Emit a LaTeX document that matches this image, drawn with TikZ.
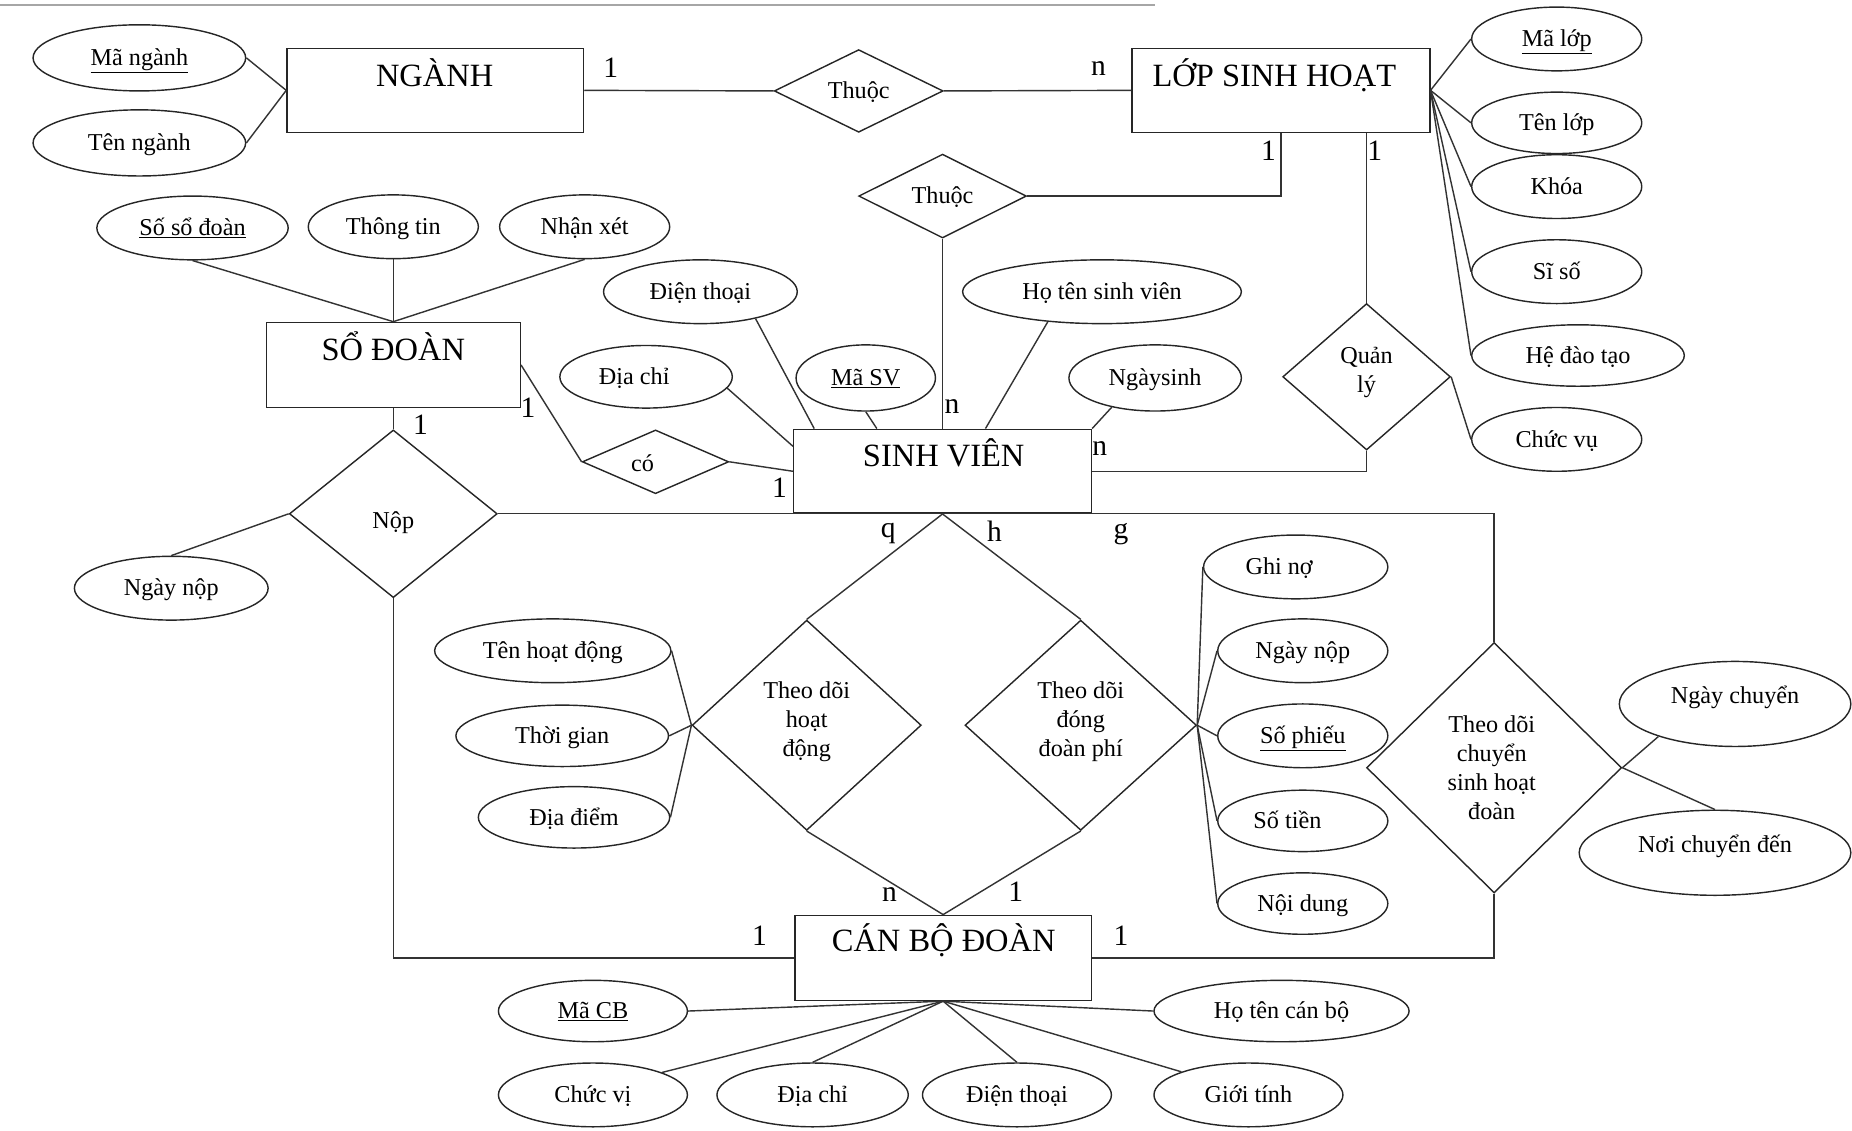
\documentclass[tikz,border=0pt]{standalone}
\usepackage{fontspec}
\setmainfont{Liberation Serif}
\usetikzlibrary{shapes.geometric}

\begin{document}
\begin{tikzpicture}[x=1pt,y=-1pt,
  ln/.style={draw=black!80, line width=1.2pt},
  entity/.style={draw=black!85, line width=1.3pt, rectangle, inner sep=0pt},
  rel/.style={draw=black!85, line width=1.2pt, diamond, inner sep=0pt},
  attr/.style 2 args={draw=black!85, line width=1.2pt, ellipse, inner sep=0pt,
    minimum width=#1, minimum height=#2,
    font=\fontsize{20.5}{24.5}\selectfont, text height=16.8pt, text depth=3.7pt},
  etext/.style={anchor=base, inner sep=0pt, font=\fontsize{27.5}{30}\selectfont},
  rtext/.style={inner sep=0pt, align=center, font=\fontsize{20.5}{24.5}\selectfont},
  rtext1/.style={rtext, text height=16.8pt, text depth=3.7pt},
  card/.style={inner sep=0pt, font=\fontsize{25}{28}\selectfont},
]
\useasboundingbox (0,0) rectangle (1568,957);

% rule along the top edge
\draw[gray!70, line width=2pt] (0,4) -- (978,4);

% ---------- entities ----------
\node[entity, minimum width=251pt, minimum height=71pt] (nganh) at (368.5,76.5) {};
\node[etext] (nganhT) at (368,73) {NGÀNH};
\node[entity, minimum width=252pt, minimum height=71pt] (lop) at (1084.5,76.5) {};
\node[etext] (lopT) at (1079,73) {LỚP SINH HOẠT};
\node[entity, minimum width=215pt, minimum height=72pt] (sodoan) at (333,309) {};
\node[etext] (sodoanT) at (333,305) {SỔ ĐOÀN};
\node[entity, minimum width=252pt, minimum height=71pt] (sv) at (798,399) {};
\node[etext] (svT) at (799,395) {SINH VIÊN};
\node[entity, minimum width=251pt, minimum height=72pt] (cbd) at (798.5,811) {};
\node[etext] (cbdT) at (799,806) {CÁN BỘ ĐOÀN};

% ---------- relationships ----------
\node[rel, minimum width=143pt, minimum height=70pt] (thuoc1) at (727,77) {};
\node[rel, minimum width=142pt, minimum height=71pt] (thuoc2) at (798,166) {};
\node[rel, minimum width=142pt, minimum height=124pt] (quanly) at (1157,319) {};
\node[rel, minimum width=124pt, minimum height=54pt] (co) at (555,391) {};
\node[rel, minimum width=176pt, minimum height=142pt] (nop) at (333,435) {};
\node[rel, minimum width=194pt, minimum height=178pt] (tdhd) at (683,614) {};
\node[rel, minimum width=196pt, minimum height=178pt] (tddp) at (915,614) {};
\node[rel, minimum width=216pt, minimum height=212pt] (tdcs) at (1265,650) {};

\node[rtext1] (thuoc1T) at (727,77) {Thuộc};
\node[rtext1] (thuoc2T) at (798,166) {Thuộc};
\node[rtext] (quanlyT) at (1157,315) {Quản\\lý};
\node[rtext1] (coT) at (544,393) {có};
\node[rtext1] (nopT) at (333,441) {Nộp};
\node[rtext] (tdhdT) at (683,611) {Theo dõi\\hoạt\\động};
\node[rtext] (tddpT) at (915,611) {Theo dõi\\đóng\\đoàn phí};
\node[rtext] (tdcsT) at (1263,650) {Theo dõi\\chuyển\\sinh hoạt\\đoàn};

% ---------- attributes ----------
\node[attr={180pt}{56pt}] (mang) at (118,49) {\underline{Mã ngành}};
\node[attr={180pt}{56pt}] (tenng) at (118,121) {Tên ngành};
\node[attr={162pt}{54pt}] (sosd) at (163,193) {\underline{Số sổ đoàn}};
\node[attr={144pt}{54pt}] (thongtin) at (333,192) {Thông tin};
\node[attr={144pt}{54pt}] (nhanxet) at (495,192) {Nhận xét};
\node[attr={164pt}{54pt}] (dtsv) at (593,247) {Điện thoại};
\node[attr={146pt}{53pt}] (dcsv) at (547,319) {\hspace*{-20pt}Địa chỉ};
\node[attr={118pt}{56pt}] (masv) at (733,320) {\underline{Mã SV}};
\node[attr={236pt}{54pt}] (htsv) at (933,247) {Họ tên sinh viên};
\node[attr={146pt}{56pt}] (ngaysinh) at (978,320) {Ngàysinh};
\node[attr={144pt}{54pt}] (malop) at (1318,33) {\underline{Mã lớp}};
\node[attr={144pt}{52pt}] (tenlop) at (1318,104) {Tên lớp};
\node[attr={144pt}{54pt}] (khoa) at (1318,158) {Khóa};
\node[attr={144pt}{54pt}] (siso) at (1318,230) {Sĩ số};
\node[attr={180pt}{52pt}] (hdt) at (1336,301) {Hệ đào tạo};
\node[attr={144pt}{54pt}] (chucvu) at (1318,372) {Chức vụ};
\node[attr={164pt}{54pt}] (ngaynop) at (145,498) {Ngày nộp};
\node[attr={200pt}{54pt}] (tenhd) at (468,551) {Tên hoạt động};
\node[attr={180pt}{52pt}] (thoigian) at (476,623) {Thời gian};
\node[attr={162pt}{52pt}] (diadiem) at (486,692) {Địa điểm};
\node[attr={156pt}{54pt}] (ghino) at (1097,480) {\hspace*{-28pt}Ghi nợ};
\node[attr={144pt}{54pt}] (ngaynop2) at (1103,551) {Ngày nộp};
\node[attr={144pt}{54pt}] (sophieu) at (1103,623) {\underline{Số phiếu}};
\node[attr={144pt}{52pt}] (sotien) at (1103,695) {\hspace*{-26pt}Số tiền};
\node[attr={144pt}{52pt}] (noidung) at (1103,765) {Nội dung};
\node[attr={196pt}{72pt}, text height=10pt, text depth=10pt] (ngaychuyen) at (1469,596) {Ngày chuyển};
\node[attr={230pt}{72pt}, text height=10pt, text depth=10pt] (noichuyen) at (1452,722) {Nơi chuyển đến};
\node[attr={160pt}{52pt}] (macb) at (502,856) {\underline{Mã CB}};
\node[attr={216pt}{52pt}] (htcb) at (1085,856) {Họ tên cán bộ};
\node[attr={160pt}{54pt}] (chucvi) at (502,927) {Chức vị};
\node[attr={162pt}{54pt}] (dccb) at (688,927) {Địa chỉ};
\node[attr={160pt}{54pt}] (dtcb) at (861,927) {Điện thoại};
\node[attr={160pt}{54pt}] (gioitinh) at (1057,927) {Giới tính};

% ---------- relationship connectors ----------
\draw[ln] (nganh.east) -- (thuoc1.west);
\draw[ln] (thuoc1.east) -- (lop.west);
\draw[ln] (lop.south) |- (thuoc2.east);
\draw[ln] (quanly.north) -- (quanly.north |- lop.south);
\draw[ln] (quanly.south) |- (sv.east);
\draw[ln] (thuoc2.south) -- (sv.north);
\draw[ln] (sodoan.east) -- (co.west);
\draw[ln] (co.east) -- (sv.west);
\draw[ln] (sodoan.south) -- (nop.north);
\draw[ln] (nop.east) -| (tdcs.north);
\draw[ln] (nop.south) |- (cbd.west);
\draw[ln] (tdcs.south) |- (cbd.east);
\draw[ln] (sv.south) -- (tdhd.north);
\draw[ln] (sv.south) -- (tddp.north);
\draw[ln] (tdhd.south) -- (cbd.north);
\draw[ln] (tddp.south) -- (cbd.north);

% ---------- attribute connectors ----------
\draw[ln] (mang.east) -- (nganh.west);
\draw[ln] (tenng.east) -- (nganh.west);
\draw[ln] (sosd.south) -- (sodoan.north);
\draw[ln] (thongtin.south) -- (sodoan.north);
\draw[ln] (nhanxet.south) -- (sodoan.north);
\draw[ln] (dtsv.-26) -- ([xshift=18pt]sv.north west);
\draw[ln] (dcsv.-8) -- ([yshift=-15pt]sv.north west);
\draw[ln] (masv.south) -- ([xshift=71pt]sv.north west);
\draw[ln] (htsv.-151) -- ([xshift=163pt]sv.north west);
\draw[ln] (ngaysinh.-146) -- (sv.north east);
\foreach \a in {malop,tenlop,khoa,siso,hdt} \draw[ln] (lop.east) -- (\a.west);
\draw[ln] (quanly.east) -- (chucvu.west);
\draw[ln] (ngaynop.north) -- (nop.west);
\foreach \a in {tenhd,thoigian,diadiem} \draw[ln] (\a.east) -- (tdhd.west);
\foreach \a in {ghino,ngaynop2,sophieu,sotien,noidung} \draw[ln] (tddp.east) -- (\a.west);
\draw[ln] (tdcs.east) -- (ngaychuyen.-157);
\draw[ln] (tdcs.east) -- (noichuyen.north);
\draw[ln] (cbd.south) -- (macb.east);
\draw[ln] (cbd.south) -- (htcb.west);
\draw[ln] (cbd.south) -- (chucvi.18);
\draw[ln] (cbd.south) -- (dccb.north);
\draw[ln] (cbd.south) -- (dtcb.north);
\draw[ln] (cbd.south) -- (gioitinh.161);

% ---------- cardinalities ----------
\node[card] (k1) at (517,57) {1};
\node[card] (k2) at (930,58) {n};
\node[card] (k3) at (1074,128) {1};
\node[card] (k4) at (1164,128) {1};
\node[card] (k5) at (806,344) {n};
\node[card] (k6) at (447,345) {1};
\node[card] (k7) at (356,360) {1};
\node[card] (k8) at (931,380) {n};
\node[card] (k9) at (660,413) {1};
\node[card] (k10) at (752,452) {q};
\node[card] (k11) at (842,450) {h};
\node[card] (k12) at (949,452) {g};
\node[card] (k13) at (753,757) {n};
\node[card] (k14) at (860,755) {1};
\node[card] (k15) at (643,792) {1};
\node[card] (k16) at (949,792) {1};
\end{tikzpicture}
\end{document}
